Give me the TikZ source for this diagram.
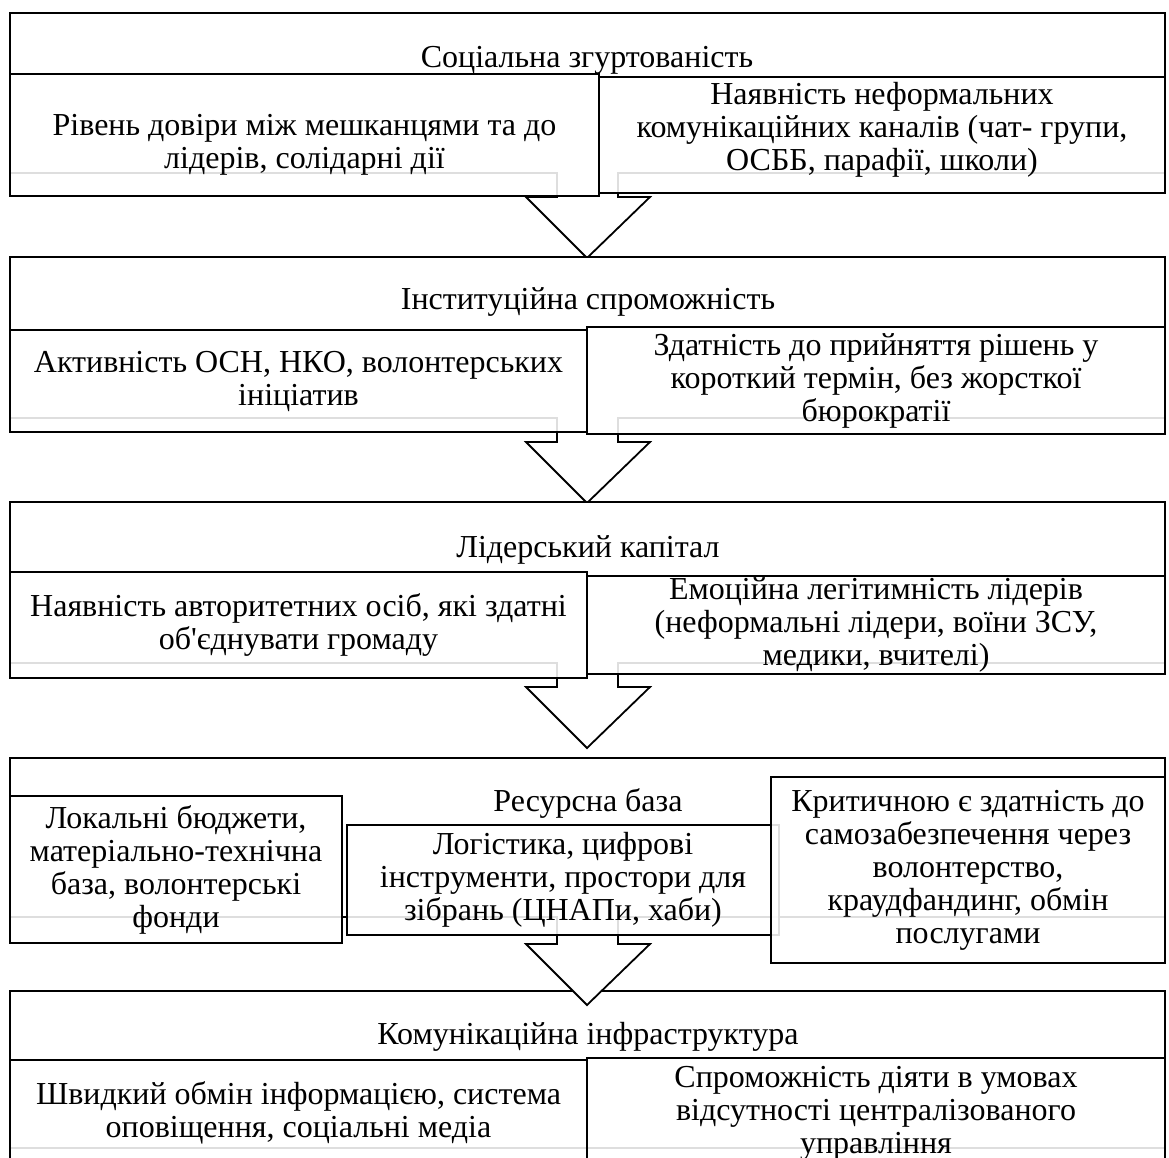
\documentclass[tikz,border=0pt]{standalone}
\usepackage{fontspec}
\setmainfont{Liberation Serif}[Ligatures=TeXOff]

\begin{document}
\begin{tikzpicture}[x=1pt,y=-1pt,line width=1.8pt,
    every node/.style={font=\fontsize{32}{33}\selectfont,align=center,inner sep=0pt}]

      \clip (0,0) rectangle (1169,1158);

      % last stage has no arrow
      \draw[fill=white] (10,991) rectangle (1165,1148);

      % stages with the arrow to the next one
      \foreach \t/\b/\h in {13/173/197, 257/418/442, 502/663/687, 758/917/944}
        \draw[fill=white] (10,\t) -- (1165,\t) -- (1165,\b) -- (618,\b) -- (618,\h)
          -- (650,\h) -- (587,\h+61) -- (526,\h) -- (557,\h) -- (557,\b) -- (10,\b) -- cycle;

      \begin{scope}
        \node (1) at (587,60)   {Соціальна згуртованість};
        \node (2) at (588,302)  {Інституційна спроможність};
        \node (3) at (588,550)  {Лідерський капітал};
        \node (4) at (588,803)  {Ресурсна база};
        \node (5) at (588,1037) {Комунікаційна інфраструктура};
      \end{scope}

      \begin{scope}[every node/.append style={draw,fill=white,fill opacity=.87,text opacity=1},
                    every label/.style={draw=none,fill=none}]
        \node[minimum width=589,minimum height=122,
              label={[yshift=-10pt]center:Рівень довіри між мешканцями та до\\лідерів, солідарні дії}]
          (1a) at (304.5,135) {};
        \node[minimum width=566,minimum height=116,
              label={[yshift=5pt]center:Наявність неформальних\\комунікаційних каналів (чат- групи,\\ОСББ, парафії, школи)}]
          (1b) at (882,135) {};

        \node[minimum width=577,minimum height=102] (2a) at (298.5,381)
          {Активність ОСН, НКО, волонтерських\\ініціатив};
        \node[minimum width=578,minimum height=107] (2b) at (876,380.5)
          {Здатність до прийняття рішень у\\короткий термін, без жорсткої\\бюрократії};

        \node[minimum width=577,minimum height=106] (3a) at (298.5,625)
          {Наявність авторитетних осіб, які здатні\\об'єднувати громаду};
        \node[minimum width=578,minimum height=98] (3b) at (876,625)
          {Емоційна легітимність лідерів\\(неформальні лідери, воїни ЗСУ,\\медики, вчителі)};

        \node[minimum width=332,minimum height=147] (4a) at (176,869.5)
          {Локальні бюджети,\\матеріально-технічна\\база, волонтерські\\фонди};
        \node[minimum width=432,minimum height=110] (4b) at (563,880)
          {Логістика, цифрові\\інструменти, простори для\\зібрань (ЦНАПи, хаби)};
        \node[minimum width=394,minimum height=186] (4c) at (968,870)
          {Критичною є здатність до\\самозабезпечення через\\волонтерство,\\краудфандинг, обмін\\послугами};

        \node[minimum width=577,minimum height=105] (5a) at (298.5,1112.5)
          {Швидкий обмін інформацією, система\\оповіщення, соціальні медіа};
        \node[minimum width=578,minimum height=111] (5b) at (876,1113.5)
          {Спроможність діяти в умовах\\відсутності централізованого\\управління};
      \end{scope}

    \end{tikzpicture}
\end{document}
